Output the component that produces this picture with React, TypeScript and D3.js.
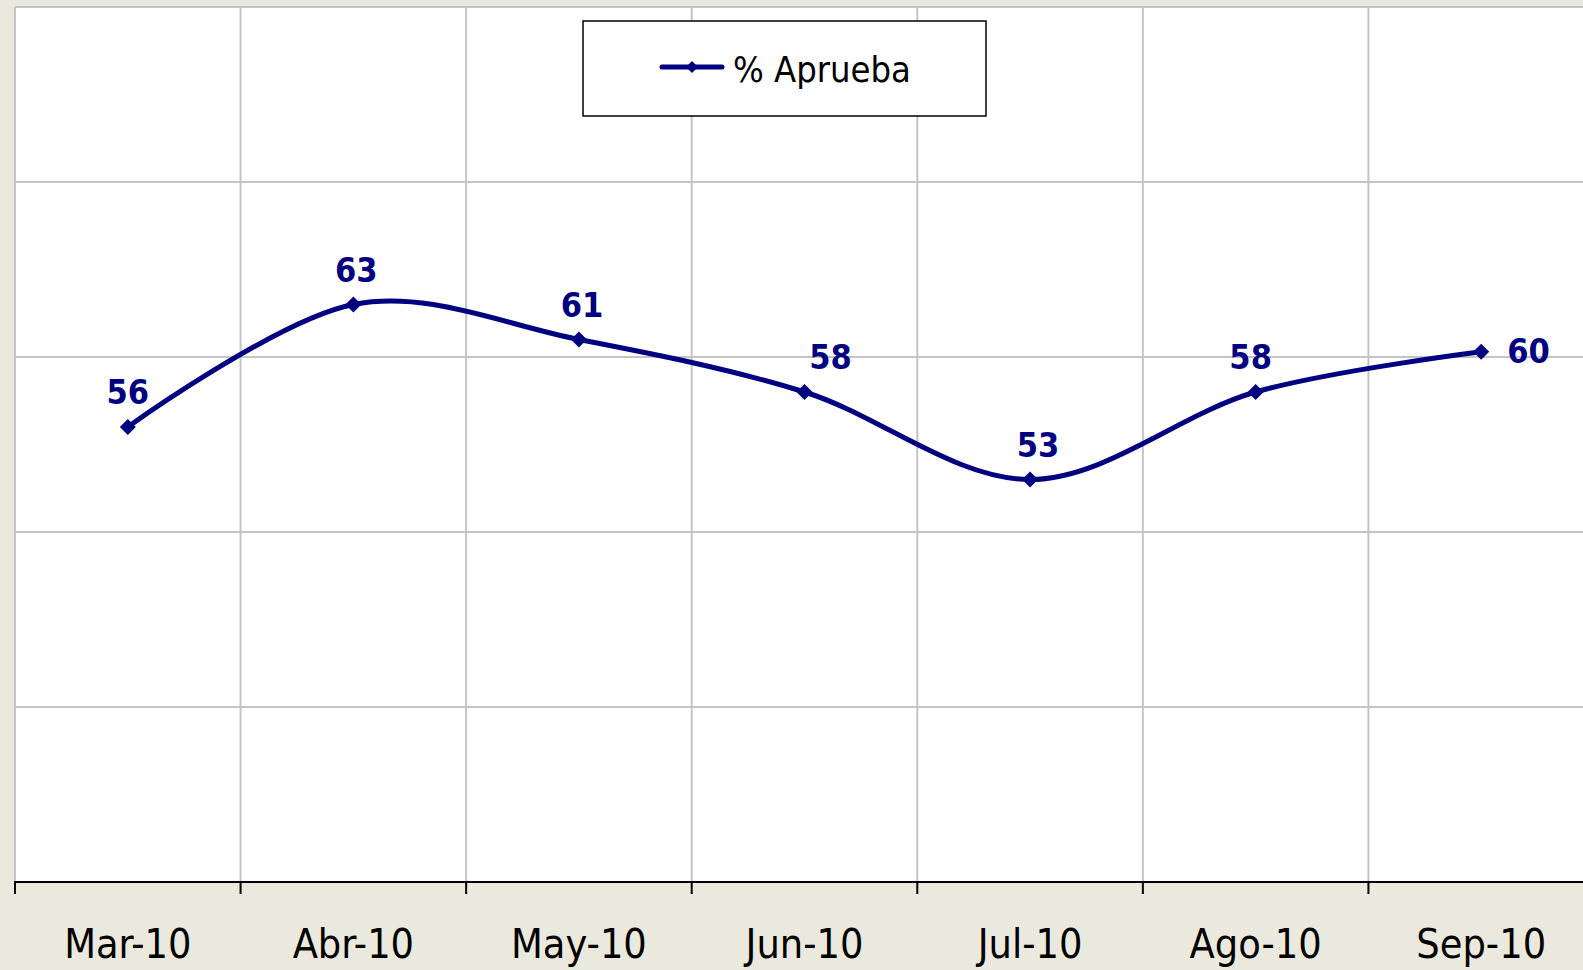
import React from "react";
import * as d3 from "d3";

const categories = ["Mar-10", "Abr-10", "May-10", "Jun-10", "Jul-10", "Ago-10", "Sep-10"];
const aprueba = [56, 63, 61, 58, 53, 58, 60.3];
const yTicks = [30, 40, 50, 60, 70, 80];
const seriesName = "% Aprueba";

const W = 1583;
const H = 970;
const plotLeft = 15;
const plotRight = 1594;
const plotTop = 7;
const plotBottom = 882;
const NAVY = "#000080";
const BG = "#EBE9DD";
const GRID = "#C4C4C4";
const FONT = "'DejaVu Sans Condensed', 'DejaVu Sans', sans-serif";

export default function App() {
  const x = d3.scaleBand<string>().domain(categories).range([plotLeft, plotRight]);
  const y = d3.scaleLinear().domain([30, 80]).range([plotBottom, plotTop]);
  const cx = (c: string) => (x(c) as number) + x.bandwidth() / 2;

  const pts: [number, number][] = categories.map((c, i) => [cx(c), y(aprueba[i])]);
  const line = d3.line().curve(d3.curveCardinal.tension(0))(pts) as string;

  const diamond = (px: number, py: number, r: number) =>
    `M${px},${py - r}L${px + r},${py}L${px},${py + r}L${px - r},${py}Z`;

  const boundaries = categories.map((c) => x(c) as number);
  const labelDx = [0, 3, 3, 26, 8, -5, 0];

  return (
    <svg width={W} height={H} style={{ position: "absolute", left: 0, top: 0, display: "block" }}>
      <rect x={0} y={0} width={W} height={H} fill={BG} />
      <rect x={plotLeft} y={plotTop} width={plotRight - plotLeft} height={plotBottom - plotTop} fill="#fff" />
      {yTicks.filter((t) => t > 30).map((t) => (
        <line key={"h" + t} x1={plotLeft} x2={W} y1={y(t)} y2={y(t)} stroke={GRID} strokeWidth={2} />
      ))}
      {boundaries.map((b, i) => (
        <line key={"v" + i} x1={b} x2={b} y1={plotTop} y2={plotBottom} stroke={GRID} strokeWidth={2} />
      ))}
      <line x1={plotLeft - 1} x2={W} y1={plotBottom} y2={plotBottom} stroke="#000" strokeWidth={2} />
      {boundaries.map((b, i) => (
        <line key={"t" + i} x1={b} x2={b} y1={plotBottom} y2={plotBottom + 12} stroke="#000" strokeWidth={2} />
      ))}
      {categories.map((c) => (
        <text key={c} x={cx(c)} y={958} textAnchor="middle" fontFamily={FONT} fontSize={41} fill="#000">
          {c}
        </text>
      ))}
      <path d={line} fill="none" stroke={NAVY} strokeWidth={5} strokeLinejoin="round" />
      {pts.map(([px, py], i) => (
        <path key={"m" + i} d={diamond(px, py, 8)} fill={NAVY} />
      ))}
      {pts.map(([px, py], i) => {
        const last = i === pts.length - 1;
        return (
          <text
            key={"l" + i}
            x={last ? px + 26 : px + labelDx[i]}
            y={last ? py + 11 : py - 23}
            textAnchor={last ? "start" : "middle"}
            fontFamily={FONT}
            fontWeight="bold"
            fontSize={34}
            fill={NAVY}
          >
            {Math.round(aprueba[i])}
          </text>
        );
      })}
      <rect x={583} y={21} width={403} height={95} fill="#fff" stroke="#000" strokeWidth={1.5} />
      <line x1={662} x2={722} y1={67} y2={67} stroke={NAVY} strokeWidth={5} strokeLinecap="round" />
      <path d={diamond(692, 67, 6)} fill={NAVY} />
      <text x={733} y={82} fontFamily={FONT} fontSize={36} fill="#000">
        {seriesName}
      </text>
    </svg>
  );
}
